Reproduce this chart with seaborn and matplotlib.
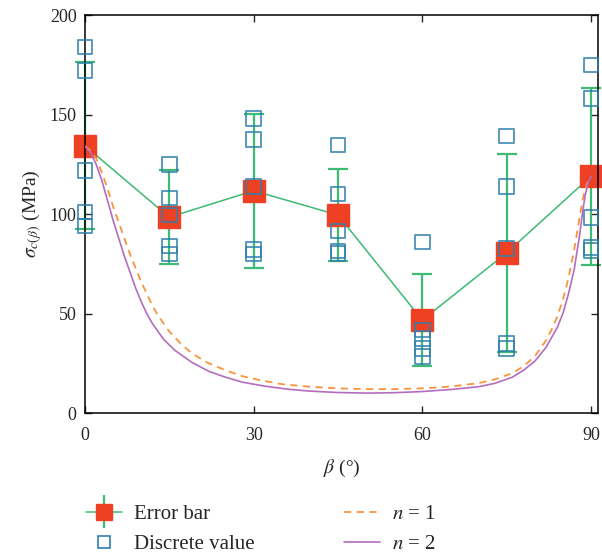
import numpy as np
import pandas as pd
import matplotlib
matplotlib.use('Agg')
import matplotlib.pyplot as plt
from matplotlib.lines import Line2D
from matplotlib.legend_handler import HandlerErrorbar
import seaborn as sns

# angles of the tests
beta = [0, 15, 30, 45, 60, 75, 90]
# mean strength and error (MPa)
mean_val = [134.3, 98.4, 111.7, 99.5, 46.7, 80.5, 119.0]
err_val = [42.0, 23.5, 38.7, 23.0, 23.2, 49.6, 44.5]

# discrete test values for each angle
disc_0 = [184, 172, 122, 101, 94]
disc_15 = [125, 108, 99.5, 84, 80]
disc_30 = [148, 137.5, 113.7, 82.3, 80]
disc_45 = [134.7, 110, 91.5, 81.4, 80.3]
disc_60 = [86, 41.7, 37.5, 32.5, 28.3]
disc_75 = [139.2, 113.7, 82.8, 35, 32.5]
disc_90 = [174.9, 158, 98.3, 83.3, 81.6]

# model curves, points
n1_beta = [0, 1, 2, 3, 4, 5, 6, 7, 8, 9, 10, 11, 12, 13, 15, 17, 19, 22, 25, 28, 31, 35, 40, 45,
           50, 55, 60, 65, 70, 73, 76, 78, 80, 82, 83, 84, 85, 86, 87, 88, 88.5, 89, 89.5, 90]
n1_val = [134, 132, 128, 121, 113, 104, 96, 88, 80, 73, 66, 60, 54, 49, 41, 35, 30, 25, 21.5, 18.5,
          16.6, 14.5, 13.2, 12.4, 12, 12, 12.4, 13.3, 15, 17, 20, 23.5, 28.5, 36.5, 42, 48.5, 57, 68,
          82, 99, 107, 113, 117, 119]
n2_beta = [0, 1, 2, 3, 4, 5, 6, 7, 8, 9, 10, 11, 12, 14, 16, 19, 22, 25, 28, 32, 36, 40, 45, 50, 55,
           60, 65, 70, 73, 76, 78, 80, 82, 83, 84, 85, 86, 87, 88, 88.5, 89, 89.5, 90]
n2_val = [134, 131, 125, 117, 107, 97, 88, 79, 71, 63, 56, 50, 45, 37, 31.5, 25.5, 21, 18, 15.5,
          13.5, 12, 11, 10.3, 10, 10.2, 10.8, 11.8, 13.2, 15, 18, 21.5, 26, 33, 38, 43, 50, 60, 72,
          90, 101, 110, 116, 119]

disc = pd.DataFrame({
    'beta': np.repeat(beta, 5),
    'value': disc_0 + disc_15 + disc_30 + disc_45 + disc_60 + disc_75 + disc_90,
})
curves = pd.concat([
    pd.DataFrame({'beta': n1_beta, 'value': n1_val, 'n': 'n1'}),
    pd.DataFrame({'beta': n2_beta, 'value': n2_val, 'n': 'n2'}),
])

sns.set_theme(style='ticks')
plt.rcParams['font.family'] = ['Liberation Serif', 'DejaVu Serif']
plt.rcParams['mathtext.fontset'] = 'stix'
plt.rcParams['font.size'] = 13

green = '#3dba74'
red = '#ee4124'
blue = '#2e7fad'
orange = '#f7943d'
purple = '#b46cbf'

fig = plt.figure(figsize=(6.02, 5.57), dpi=100)
ax = fig.add_axes([0.141, 0.2585, 0.852, 0.7145])

eb = ax.errorbar(beta, mean_val, yerr=err_val, color=green, lw=1.1, elinewidth=1.6,
                 capsize=7, capthick=1.6, marker='s', ms=16, mfc=red, mec=red, zorder=2)
for art in eb.get_children():
    art.set_clip_on(False)
sns.scatterplot(data=disc, x='beta', y='value', marker='s', s=110, facecolor='none',
                edgecolor=blue, linewidth=1.3, alpha=0.85, ax=ax, zorder=3, clip_on=False)
sns.lineplot(data=curves[curves['n'] == 'n1'], x='beta', y='value', color=orange,
             lw=1.3, ax=ax, zorder=4, sort=False)
sns.lineplot(data=curves[curves['n'] == 'n2'], x='beta', y='value', color=purple,
             lw=1.2, ax=ax, zorder=4, sort=False)
ax.lines[-2].set_linestyle((0, (4, 3)))

ax.set_xlim(0, 91.2)
ax.set_ylim(0, 200)
ax.set_xticks([0, 30, 60, 90])
ax.set_yticks([0, 50, 100, 150, 200])
ax.tick_params(direction='in', top=True, right=True, labelsize=13, length=5, width=1,
               labeltop=False, labelright=False, pad=6)
ax.tick_params(axis='x', pad=10)
for s in ax.spines.values():
    s.set_linewidth(1.1)
    s.set_color('black')
ax.set_xlabel(r'$\beta$ (°)', fontsize=14, labelpad=10)
ax.set_ylabel(r'$\sigma_{c(\beta)}$ (MPa)', fontsize=14, labelpad=4)

h_err = ax.errorbar([], [], yerr=[], color=green, lw=1.1, elinewidth=1.6, capsize=7,
                    capthick=1.6, marker='s', ms=12, mfc=red, mec=red)
h_disc = Line2D([], [], ls='none', marker='s', ms=8, mfc='none', mec=blue, mew=1.2)
h_n1 = Line2D([], [], color=orange, lw=1.3, ls=(0, (4, 3)))
h_n2 = Line2D([], [], color=purple, lw=1.2)
fig.legend([h_err, h_disc, h_n1, h_n2],
           ['Error bar', 'Discrete value', r'$n$ = 1', r'$n$ = 2'],
           loc='upper left', bbox_to_anchor=(0.112, 0.128), ncol=2, frameon=False,
           fontsize=15, handlelength=1.7, columnspacing=4.3, labelspacing=0.5,
           handletextpad=0.6,
           handler_map={type(h_err): HandlerErrorbar(xerr_size=0.8, yerr_size=0.8)})

fig.savefig('out.png', dpi=100)
